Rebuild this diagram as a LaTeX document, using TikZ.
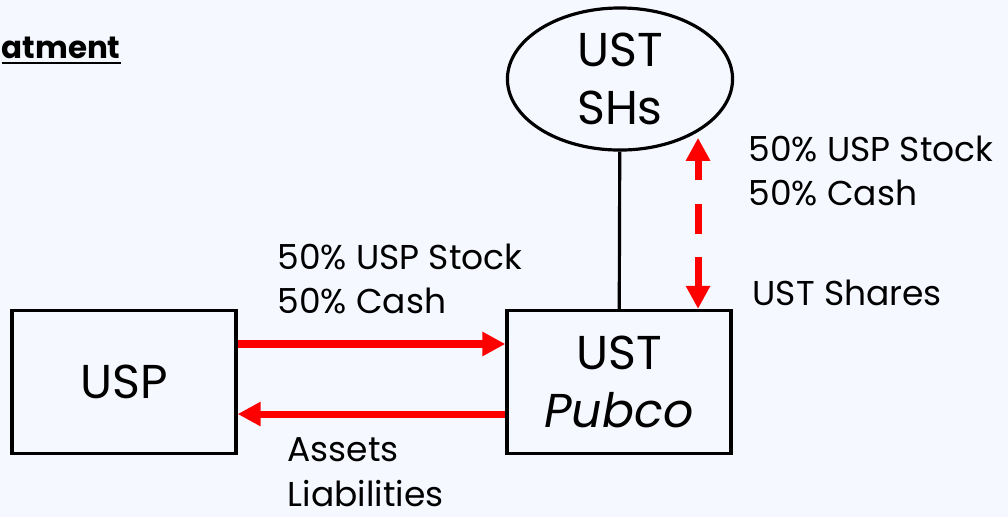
\documentclass[tikz,border=0pt]{standalone}
\usepackage{fontspec}
\setmainfont{Poppins}
\usetikzlibrary{shapes.geometric, arrows.meta, positioning, calc}
\definecolor{PaleBack}{HTML}{F5F8FF}
\definecolor{FlowRed}{HTML}{FF0000}

\tikzset{
  entity/.style={draw=black, line width=0.9pt, minimum width=2.24cm,
                 minimum height=1.43cm, inner sep=0pt, align=center,
                 font=\fontsize{13.5}{16.5}\selectfont},
  holders/.style={entity, ellipse, minimum width=2.25cm, minimum height=1.42cm},
  flow/.style={draw=FlowRed, line width=2pt,
               -{Triangle[length=0.23cm, width=0.23cm]}},
  swap/.style={draw=FlowRed, line width=2pt, dash pattern=on 0.3cm off 0.235cm,
               {Triangle[length=0.23cm, width=0.23cm]}-{Triangle[length=0.23cm, width=0.23cm]}},
  note/.style={anchor=north west, align=left, inner sep=0pt,
               font=\fontsize{9.8}{12.7}\selectfont}
}

\begin{document}
\begin{tikzpicture}[x=0.01cm, y=-0.01cm]
        \fill[PaleBack] (0,0) rectangle (1008,517);
        \useasboundingbox (0,0) rectangle (1008,517);

        % heading at the top left
        \node[anchor=base west, inner sep=0pt, font=\fontsize{8.8}{11}\selectfont\bfseries]
          (title) at (1,58) {\underline{atment}};

        % shareholders and the two companies
        \node[holders] (shs) at (620,79) {UST\\SHs};
        \node[entity] (usp) at (124,382) {USP};
        \node[entity] (pubco) at (619,382) {UST\\\textit{Pubco}};

        \draw[line width=0.9pt] (shs) -- (pubco);

        % merger consideration and transfer of the business
        \draw[flow] ([yshift=0.38cm]usp.east) -- ([yshift=0.38cm]pubco.west);
        \draw[flow] ([yshift=-0.32cm]pubco.west) -- ([yshift=-0.32cm]usp.east);
        \draw[swap] ([xshift=0.79cm]pubco.north) -- ([xshift=0.79cm, yshift=1.71cm]pubco.north);

        \node[note] (paid) at (277,243) {50\% USP Stock\\50\% Cash};
        \node[note] (assets) at (287,437) {Assets\\Liabilities};
        \node[note] (received) at (748,135) {50\% USP Stock\\50\% Cash};
        \node[note] (shares) at (752,279) {UST Shares};
      \end{tikzpicture}
\end{document}
